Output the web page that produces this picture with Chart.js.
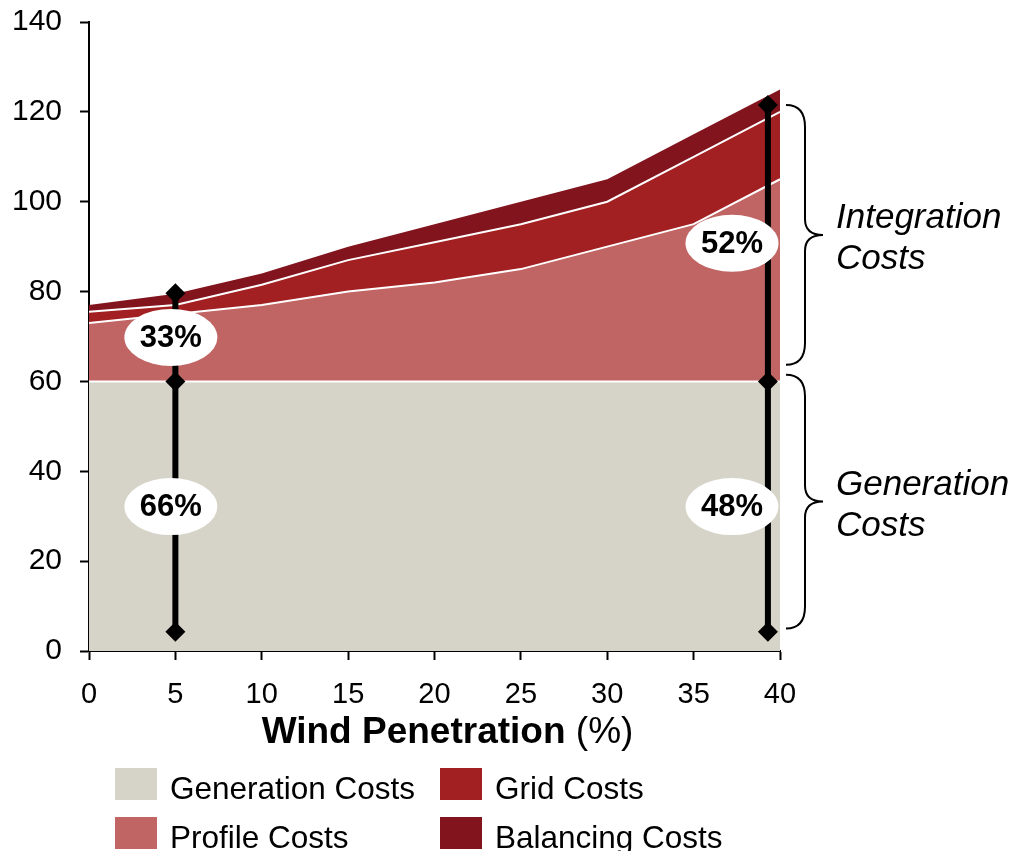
<!DOCTYPE html>
<html>
<head>
<meta charset="utf-8">
<title>Wind Penetration Costs</title>
<script src="https://cdn.jsdelivr.net/npm/chart.js@4.4.1/dist/chart.umd.min.js"></script>
<style>
    html, body { margin: 0; padding: 0; background: #ffffff; }
    #grafica { display: block; }
</style>
</head>
<body>
<canvas id="grafica" width="1025" height="851"></canvas>
<script>
// Valores del eje x (penetración eólica en %)
var penetracion = [0, 5, 10, 15, 20, 25, 30, 35, 40];

// Componentes de coste (se apilan uno sobre otro)
var costesGeneracion = [60, 60, 60, 60, 60, 60, 60, 60, 60];
var costesPerfil = [13, 15, 17, 20, 22, 25, 30, 35, 45];
var costesRed = [2.5, 2, 4.5, 7, 9, 10, 10, 15, 15];
var costesBalance = [1.5, 2.5, 2.5, 3, 4, 5, 5, 5, 5];

// Nombres y colores de las series
var nombresSeries = ['Generation Costs', 'Profile Costs', 'Grid Costs', 'Balancing Costs'];
var coloresSeries = ['#D6D3C8', '#C06563', '#A32022', '#82141E'];

// Marcas del eje y
var ticksY = [0, 20, 40, 60, 80, 100, 120, 140];

// Líneas verticales con porcentajes (x y los valores de los rombos)
var lineaIzqX = 5;
var lineaIzqY = [4.3, 60, 79.6];
var etiquetasIzq = ['66%', '33%'];
var lineaDerX = 39.3;
var lineaDerY = [4.3, 60, 121.5];
var etiquetasDer = ['48%', '52%'];

// Llaves de la derecha (rango en el eje y y su texto)
var llaveIntegracion = [121.5, 63.7];
var textoIntegracion = ['Integration', 'Costs'];
var llaveGeneracion = [61.5, 5];
var textoGeneracion = ['Generation', 'Costs'];

var fuente = "'Liberation Sans', Arial, Helvetica, sans-serif";
Chart.defaults.font.family = fuente;
Chart.defaults.color = '#000000';

// Convertir una serie en puntos {x, y}
function puntos(valores) {
    return penetracion.map(function (x, i) { return { x: x, y: valores[i] }; });
}

// Puntos de una línea vertical
function puntosLinea(x, valores) {
    return valores.map(function (v) { return { x: x, y: v }; });
}

var seriesValores = [costesGeneracion, costesPerfil, costesRed, costesBalance];

var datasets = seriesValores.map(function (valores, i) {
    return {
        label: nombresSeries[i],
        data: puntos(valores),
        backgroundColor: coloresSeries[i],
        borderColor: '#ffffff',
        borderWidth: i === 3 ? 0 : 2,
        fill: i === 0 ? 'origin' : '-1',
        pointRadius: 0,
        tension: 0,
        stack: 'costes',
        order: 1
    };
});

// Líneas negras con rombos
[[lineaIzqX, lineaIzqY], [lineaDerX, lineaDerY]].forEach(function (l, i) {
    datasets.push({
        label: 'linea' + i,
        data: puntosLinea(l[0], l[1]),
        borderColor: '#000000',
        borderWidth: 6,
        pointStyle: 'rectRot',
        pointRadius: 10,
        pointBackgroundColor: '#000000',
        pointBorderWidth: 0,
        fill: false,
        clip: false,
        stack: 'linea' + i,
        order: 0
    });
});

// Dibujar una llave "}"
function dibujarLlave(ctx, x0, yTop, yBot) {
    var x1 = x0 + 19, x2 = x0 + 37, r = 22, rm = 16;
    var mid = (yTop + yBot) / 2;
    ctx.beginPath();
    ctx.moveTo(x0, yTop);
    ctx.quadraticCurveTo(x1, yTop, x1, yTop + r);
    ctx.lineTo(x1, mid - rm);
    ctx.quadraticCurveTo(x1, mid, x2, mid);
    ctx.quadraticCurveTo(x1, mid, x1, mid + rm);
    ctx.lineTo(x1, yBot - r);
    ctx.quadraticCurveTo(x1, yBot, x0, yBot);
    ctx.strokeStyle = '#000000';
    ctx.lineWidth = 2;
    ctx.stroke();
    return mid;
}

var pluginAnotaciones = {
    id: 'anotaciones',
    afterDatasetsDraw: function (chart) {
        var ctx = chart.ctx;
        var sx = chart.scales.x, sy = chart.scales.y;
        var area = chart.chartArea;
        ctx.save();

        // Elipses blancas con porcentajes
        [[lineaIzqX, lineaIzqY, etiquetasIzq], [lineaDerX, lineaDerY, etiquetasDer]].forEach(function (l) {
            var cx = Math.min(sx.getPixelForValue(l[0]) - 4.5, area.right - 48);
            for (var i = 0; i < l[2].length; i++) {
                var cy = sy.getPixelForValue((l[1][i] + l[1][i + 1]) / 2);
                ctx.beginPath();
                ctx.ellipse(cx, cy, 46.5, 28.5, 0, 0, Math.PI * 2);
                ctx.fillStyle = '#ffffff';
                ctx.fill();
                ctx.fillStyle = '#000000';
                ctx.font = 'bold 31px ' + fuente;
                ctx.textAlign = 'center';
                ctx.textBaseline = 'middle';
                ctx.fillText(l[2][i], cx, cy + 1);
            }
        });

        // Llaves y textos en cursiva
        [[llaveIntegracion, textoIntegracion], [llaveGeneracion, textoGeneracion]].forEach(function (ll) {
            var mid = dibujarLlave(ctx, area.right + 6, sy.getPixelForValue(ll[0][0]), sy.getPixelForValue(ll[0][1]));
            ctx.fillStyle = '#000000';
            ctx.font = 'italic 35px ' + fuente;
            ctx.textAlign = 'left';
            ctx.textBaseline = 'alphabetic';
            ctx.fillText(ll[1][0], area.right + 56, mid - 7);
            ctx.fillText(ll[1][1], area.right + 56, mid + 34);
        });
        ctx.restore();
    },
    afterDraw: function (chart) {
        var ctx = chart.ctx;
        var area = chart.chartArea;
        ctx.save();

        // Título del eje x: parte en negrita y parte normal
        var negrita = 'bold 37px ' + fuente, normal = '37px ' + fuente;
        ctx.font = negrita;
        var w1 = ctx.measureText('Wind Penetration').width;
        ctx.font = normal;
        var w2 = ctx.measureText(' (%)').width;
        var xIni = (area.left + area.right) / 2 + 13 - (w1 + w2) / 2;
        ctx.fillStyle = '#000000';
        ctx.textAlign = 'left';
        ctx.textBaseline = 'alphabetic';
        ctx.font = negrita;
        ctx.fillText('Wind Penetration', xIni, area.bottom + 92);
        ctx.font = normal;
        ctx.fillText(' (%)', xIni + w1, area.bottom + 92);

        // Leyenda en dos columnas
        var colX = [115, 440], filaY = [768, 817];
        ctx.font = '31.5px ' + fuente;
        for (var i = 0; i < nombresSeries.length; i++) {
            var bx = colX[Math.floor(i / 2)], by = filaY[i % 2];
            ctx.fillStyle = coloresSeries[i];
            ctx.fillRect(bx, by, 42, 32);
            ctx.fillStyle = '#000000';
            ctx.fillText(nombresSeries[i], bx + 55, by + 31);
        }
        ctx.restore();
    }
};

var ctx = document.getElementById('grafica').getContext('2d');
var grafico = new Chart(ctx, {
    type: 'line',
    data: { datasets: datasets },
    plugins: [pluginAnotaciones],
    options: {
        responsive: false,
        animation: false,
        events: [],
        layout: { padding: { top: 22, right: 245, bottom: 0, left: 0 } },
        plugins: {
            legend: { display: false },
            tooltip: { enabled: false }
        },
        scales: {
            x: {
                type: 'linear',
                min: 0,
                max: 40,
                ticks: { stepSize: 5, padding: 18, font: { size: 29 }, color: '#000000' },
                grid: { drawOnChartArea: false, tickLength: 9, tickColor: '#000000', tickWidth: 2 },
                border: { color: '#000000', width: 2 },
                afterFit: function (s) { s.height = 200; s.paddingLeft = 0; s.paddingRight = 0; }
            },
            y: {
                stacked: true,
                min: 0,
                max: 140,
                afterBuildTicks: function (s) { s.ticks = ticksY.map(function (v) { return { value: v }; }); },
                ticks: { padding: 18, font: { size: 30 }, color: '#000000' },
                grid: { drawOnChartArea: false, tickLength: 9, tickColor: '#000000', tickWidth: 2 },
                border: { color: '#000000', width: 2 },
                afterFit: function (s) { s.width = 89; s.paddingTop = 0; s.paddingBottom = 0; }
            }
        }
    }
});
</script>
</body>
</html>
